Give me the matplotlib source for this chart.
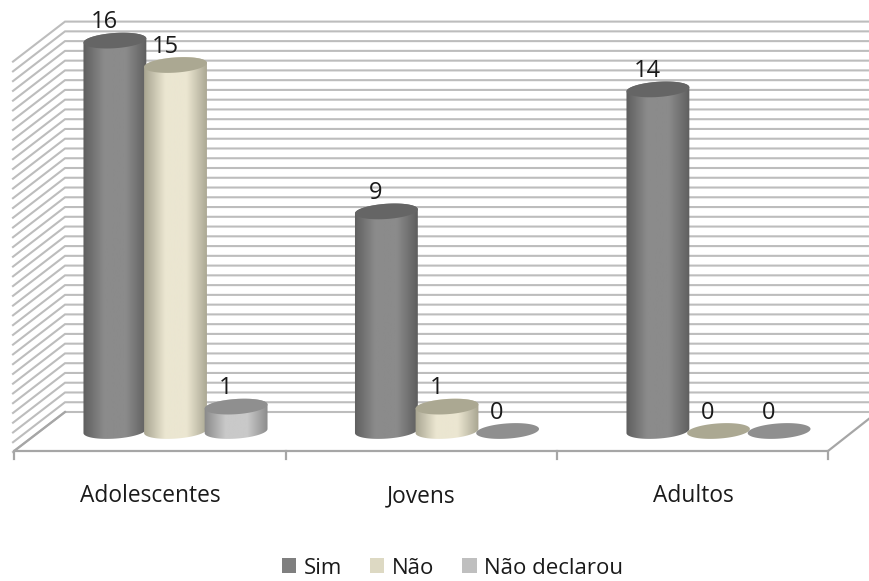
import numpy as np
import matplotlib
matplotlib.use('Agg')
import matplotlib.pyplot as plt
from matplotlib.patches import PathPatch, Patch
from matplotlib.path import Path
from matplotlib.colors import LinearSegmentedColormap

plt.rcParams['font.family'] = ['Open Sans', 'DejaVu Sans']

categories = ['Adolescentes', 'Jovens', 'Adultos']
series = ['Sim', 'Não', 'Não declarou']
sim = [16, 9, 14]
nao = [15, 1, 0]
nao_declarou = [1, 0, 0]

# side shading: edge, centre, then the flat top colour, then legend swatch
styles = {
    'Sim': ('#5c5c5c', '#8b8b8b', '#656565', '#7f7f7f'),
    'Não': ('#a5a28e', '#ebe6d1', '#aba892', '#ddd9c3'),
    'Não declarou': ('#868686', '#c9c9c9', '#8f8f8f', '#bfbfbf'),
}

W, H = 870, 581
# pixels per category / per unit, and where category 0 / value 0 sit
PX_CAT, PX_VAL = 271.5, 24.4
X0, Y0 = 175.5, 431.0
BAR_STEP = 60.6 / PX_CAT
RX, RY, TILT = 31.5, 7.6, np.radians(4)

fig = plt.figure(figsize=(W / 100, H / 100), dpi=100)
ax = fig.add_axes([0, 0, 1, 1])
xlim = (-X0 / PX_CAT, (W - X0) / PX_CAT)
ylim = ((Y0 - H) / PX_VAL, Y0 / PX_VAL)


def cat_x(px):
    return (px - X0) / PX_CAT


def ellipse(cx, cy):
    t = np.linspace(0, 2 * np.pi, 73)
    ex = RX * np.cos(t) * np.cos(TILT) - RY * np.sin(t) * np.sin(TILT)
    ey = RX * np.cos(t) * np.sin(TILT) + RY * np.sin(t) * np.cos(TILT)
    return np.column_stack([cx + ex / PX_CAT, cy + ey / PX_VAL])


def cylinder(cx, value, name):
    edge, mid, top, _ = styles[name]
    top_pts = ellipse(cx, value)
    if value > 0:
        base = ellipse(cx, 0)
        # lower half of the base ellipse, then back over the top one
        lower = base[36:73]
        upper = top_pts[0:37]
        verts = np.vstack([lower, upper, lower[:1]])
        side = Path(verts, closed=True)
        cmap = LinearSegmentedColormap.from_list('s', [edge, mid, mid, edge])
        shade = np.linspace(0, 1, 128).reshape(1, -1)
        im = ax.imshow(shade, cmap=cmap, aspect='auto', zorder=3 + cx,
                       extent=(cx - 33 / PX_CAT, cx + 33 / PX_CAT, -1, value + 1))
        im.set_clip_path(PathPatch(side, transform=ax.transData))
    ax.add_patch(PathPatch(Path(top_pts, closed=True), fc=top, ec='none', zorder=3 + cx))


# back wall gridlines with their return along the left wall
grid_vals = np.arange(0, 16.01, 0.4)
back_y = 19 / PX_VAL
for v in grid_vals:
    y = v + back_y
    ax.plot([cat_x(13), cat_x(65), cat_x(868)],
            [y - 40 / PX_VAL, y, y],
            color='#bdbdbd', lw=1.5, solid_joinstyle='miter', zorder=1)

# floor outline and ticks
floor_y = -20 / PX_VAL
ax.plot([cat_x(65), cat_x(14), cat_x(828), cat_x(870)],
        [back_y, floor_y, floor_y, floor_y + 33 / PX_VAL],
        color='#a6a6a6', lw=1.6, solid_joinstyle='miter', zorder=2)
for px in [14, 286, 557, 828]:
    ax.plot([cat_x(px), cat_x(px)], [floor_y, floor_y - 8 / PX_VAL],
            color='#a6a6a6', lw=1.6, zorder=2)

for i, cat in enumerate(categories):
    ax.text(i - 25.5 / PX_CAT, -71 / PX_VAL, cat, ha='center', va='baseline',
            fontsize=16.4, color='#1a1a1a', zorder=10)

for name, values, off in zip(series, [sim, nao, nao_declarou], [-1, 0, 1]):
    for i, value in enumerate(values):
        cx = i + off * BAR_STEP
        cylinder(cx, value, name)
        ax.text(cx - 10.5 / PX_CAT, value + 12.3 / PX_VAL, str(value),
                ha='center', va='baseline', fontsize=17, color='#1a1a1a', zorder=10)

handles = [Patch(fc=styles[s][3], ec='none') for s in series]
ax.legend(handles, series, loc='center', bbox_to_anchor=(452.5 / W, 1 - 568 / H),
          ncol=3, frameon=False, fontsize=16, handlelength=0.65, handleheight=0.65,
          handletextpad=0.34, columnspacing=1.25, labelcolor='#1a1a1a')

ax.set_xlim(xlim)
ax.set_ylim(ylim)
ax.axis('off')
fig.savefig('out.png', dpi=100, facecolor='white')
